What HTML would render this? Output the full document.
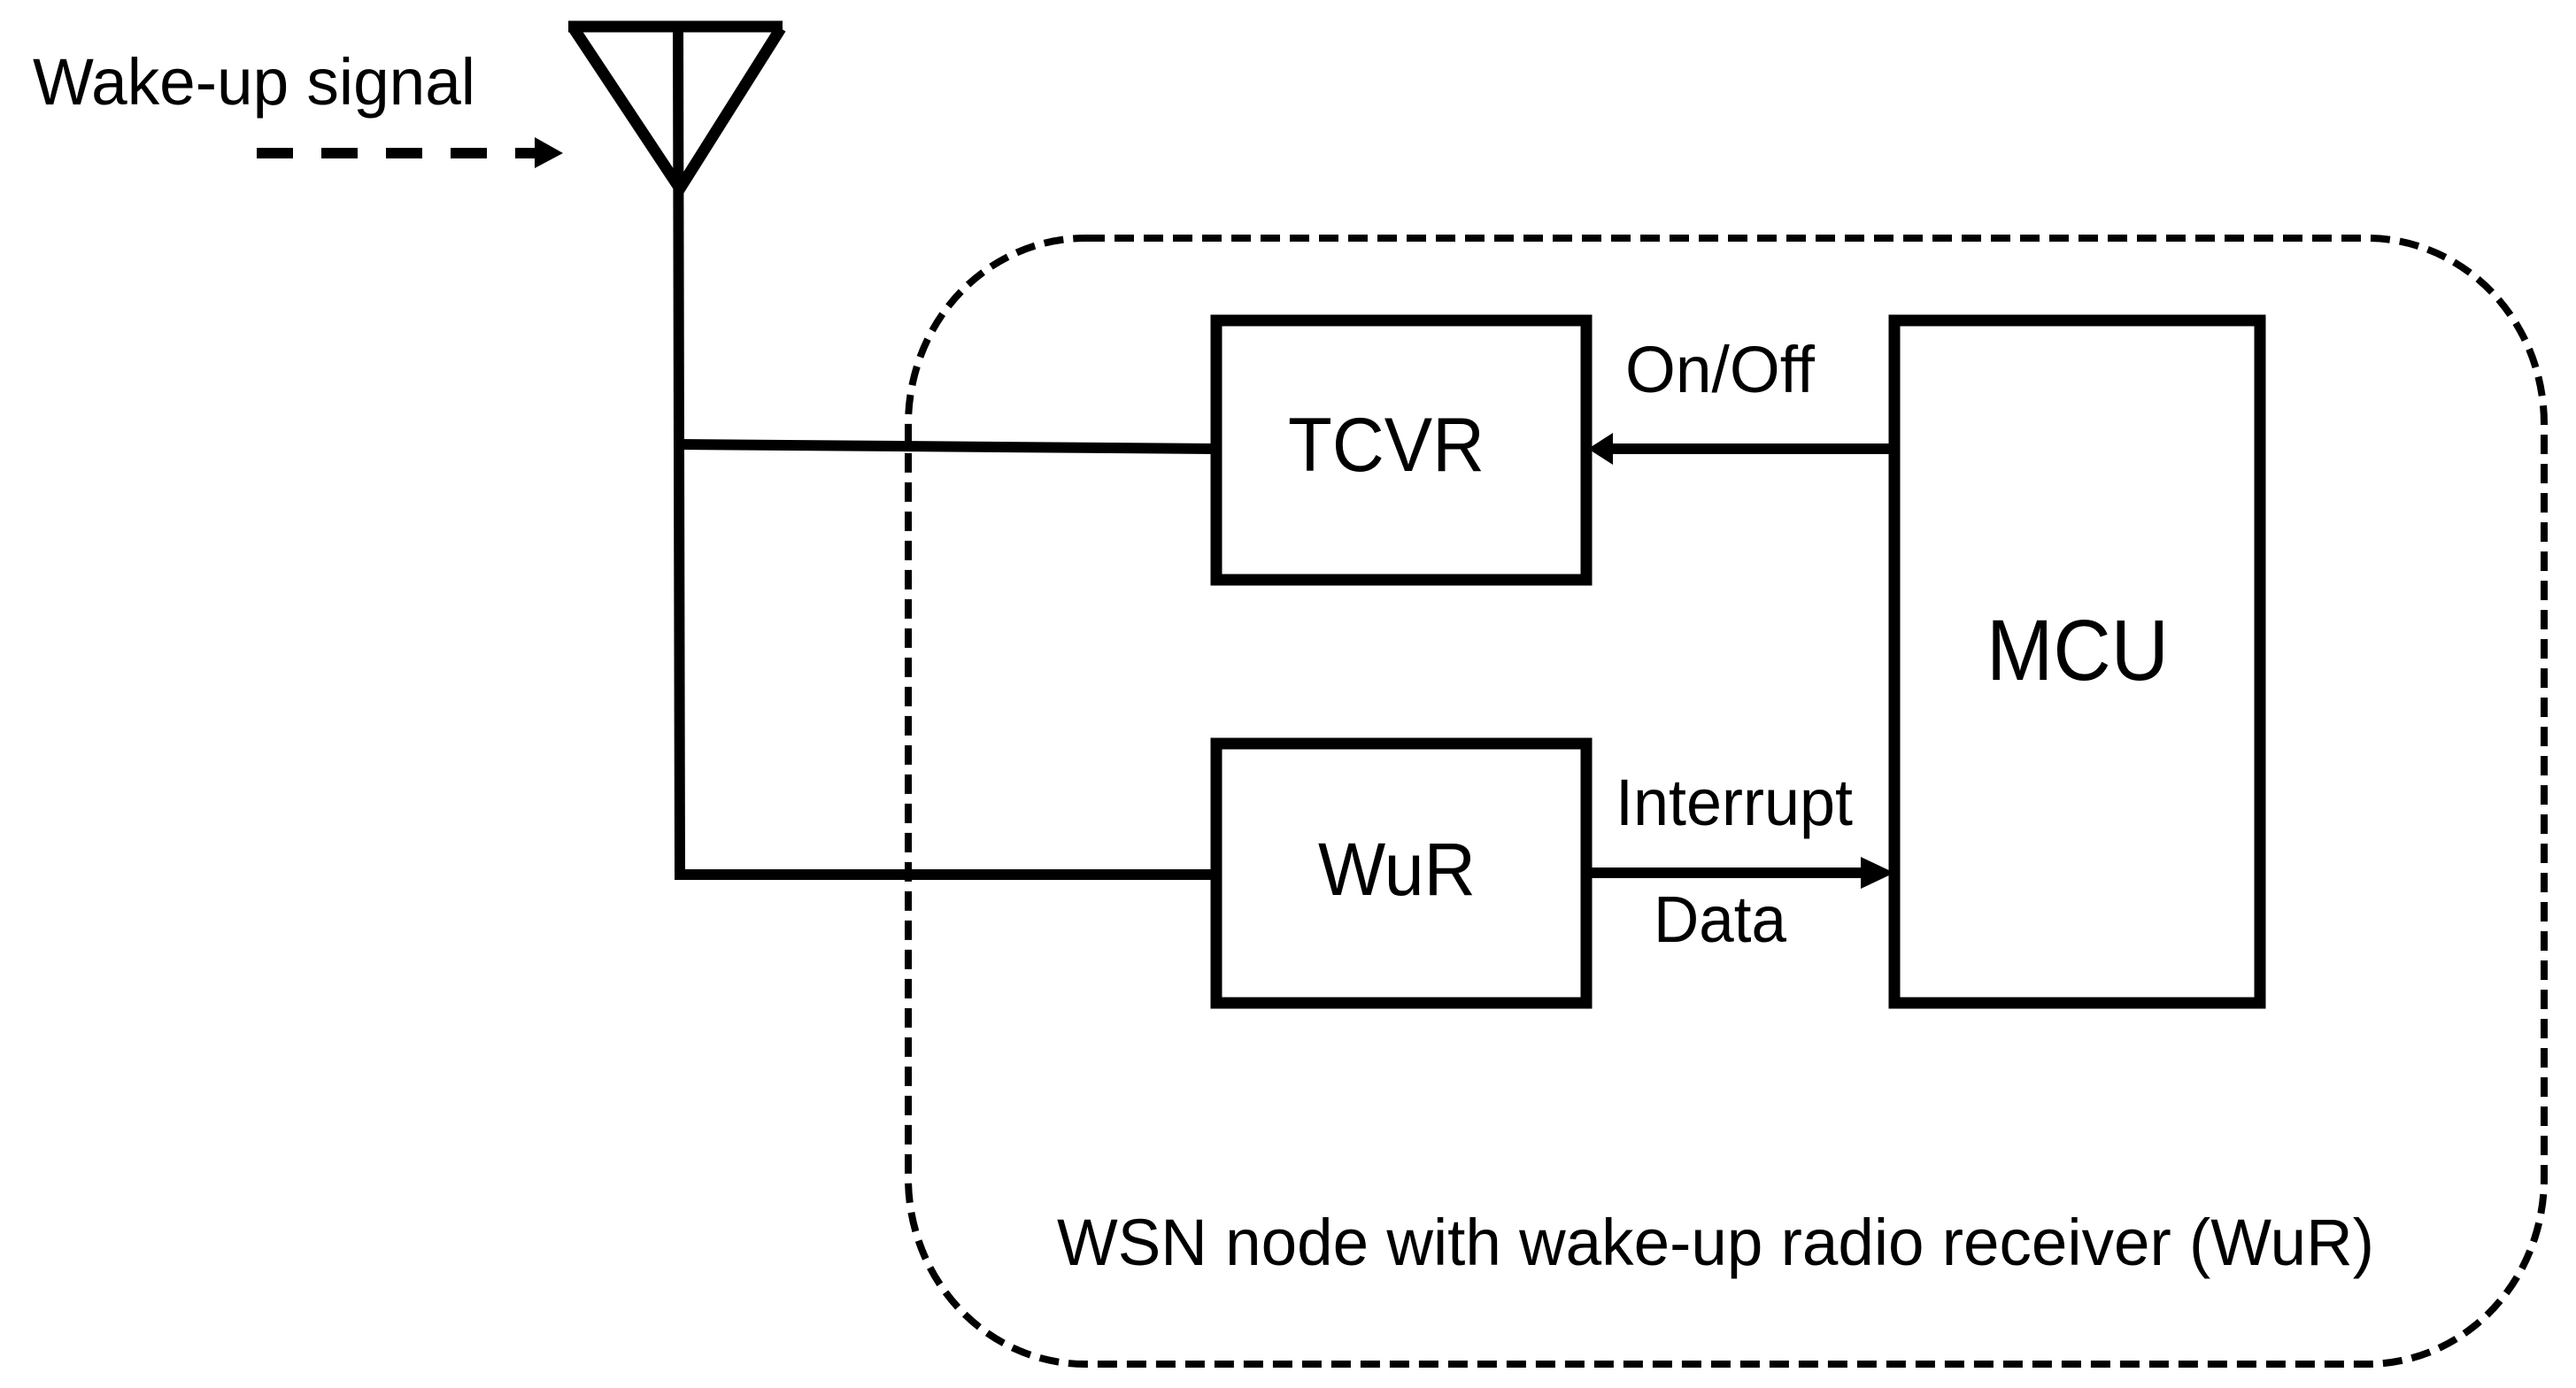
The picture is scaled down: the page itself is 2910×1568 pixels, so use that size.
<!DOCTYPE html>
<html><head><meta charset="utf-8"><style>html,body{margin:0;padding:0;background:#fff}svg{display:block}</style></head>
<body>
<svg width="2910" height="1568" viewBox="0 0 2910 1568" xmlns="http://www.w3.org/2000/svg" font-family="Liberation Sans, Arial, sans-serif" fill="#000">
<rect width="2910" height="1568" fill="#fff"/>
<rect x="1026" y="269" width="1848" height="1272" rx="200" ry="210" fill="none" stroke="#000" stroke-width="8" stroke-dasharray="22 11"/>
<g stroke="#000" stroke-width="13" fill="none" stroke-linejoin="miter">
<line x1="642" y1="30" x2="884" y2="30"/>
<polyline points="648,32 768,213 882,32"/>
</g>
<line x1="766" y1="30" x2="768" y2="990" stroke="#000" stroke-width="12"/>
<line x1="768" y1="502" x2="1372" y2="507" stroke="#000" stroke-width="12"/>
<line x1="762" y1="988" x2="1372" y2="988" stroke="#000" stroke-width="12"/>
<line x1="290" y1="173" x2="618" y2="173" stroke="#000" stroke-width="12" stroke-dasharray="41 32"/>
<polygon points="604,155 636,173 604,190" fill="#000"/>
<g stroke="#000" stroke-width="13" fill="none">
<rect x="1374" y="362" width="418" height="293"/>
<rect x="1374" y="840" width="418" height="293"/>
<rect x="2140" y="362" width="413" height="771"/>
</g>
<line x1="2140" y1="507" x2="1818" y2="507" stroke="#000" stroke-width="12"/>
<polygon points="1794,507 1822,489 1822,525" fill="#000"/>
<line x1="1792" y1="986" x2="2112" y2="986" stroke="#000" stroke-width="12"/>
<polygon points="2140,986 2102,968 2102,1004" fill="#000"/>
<text x="37" y="118" font-size="74" textLength="500" lengthAdjust="spacingAndGlyphs">Wake-up signal</text>
<text x="1455" y="532" font-size="86" textLength="222" lengthAdjust="spacingAndGlyphs">TCVR</text>
<text x="1489" y="1011" font-size="84" textLength="178" lengthAdjust="spacingAndGlyphs">WuR</text>
<text x="2244" y="768" font-size="97" textLength="206" lengthAdjust="spacingAndGlyphs">MCU</text>
<text x="1836" y="443" font-size="74" textLength="214" lengthAdjust="spacingAndGlyphs">On/Off</text>
<text x="1825" y="932" font-size="74" textLength="268" lengthAdjust="spacingAndGlyphs">Interrupt</text>
<text x="1868" y="1064" font-size="74" textLength="150" lengthAdjust="spacingAndGlyphs">Data</text>
<text x="1194" y="1429" font-size="74" textLength="1488" lengthAdjust="spacingAndGlyphs">WSN node with wake-up radio receiver (WuR)</text>
</svg>
</body></html>
